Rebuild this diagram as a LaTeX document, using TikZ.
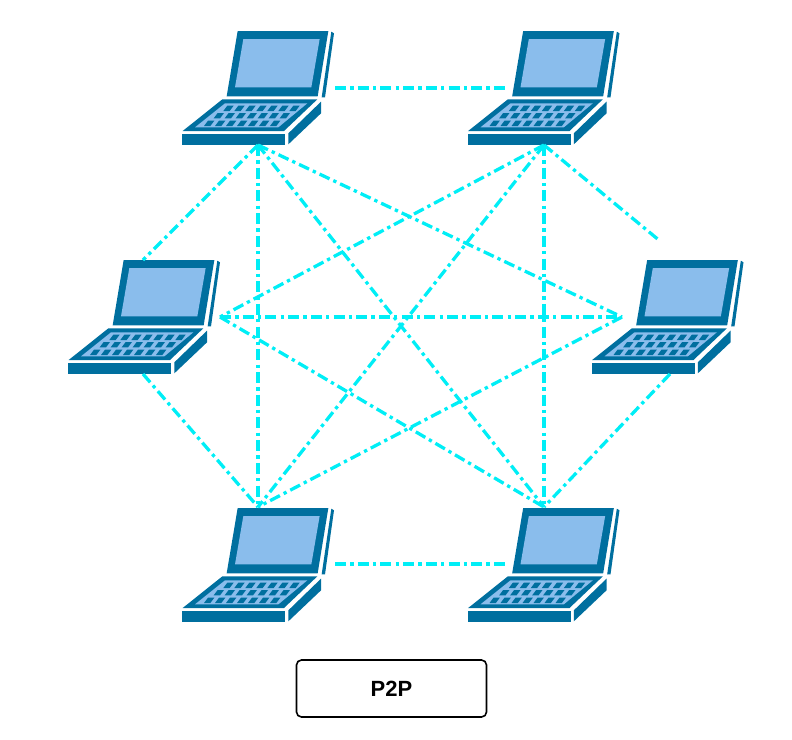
\documentclass[tikz,border=0pt]{standalone}
\usepackage{fontspec}
\setmainfont{Liberation Sans}
\definecolor{lapdark}{HTML}{006F9F}
\definecolor{laplight}{HTML}{8ABDEC}
\definecolor{linkcyan}{HTML}{00EEF6}
\tikzset{
  link/.style={draw=linkcyan,line width=3.3pt,dash pattern=on 11pt off 4.2pt on 3.3pt off 4.2pt},
  titlebox/.style={draw=black,line width=1.6pt,rounded corners=5pt,minimum width=190pt,minimum height=57pt,inner sep=0pt,font=\bfseries\fontsize{22}{26}\selectfont},
  laptop/.pic={
    \begin{scope}[x=0.33333pt,y=-0.33333pt]
      \fill[lapdark] (203,33)--(475,33)--(443,229)--(170,229)--cycle;
      \fill[laplight] (220,57)--(449,57)--(424,202)--(195,202)--cycle;
      \fill[lapdark] (484,35)--(492,40)--(465,232)--(455,232)--cycle;
      \fill[lapdark] (157,238)--(442,238)--(342,333)--(38,333)--cycle;
      \fill[laplight] (165,250)--(412,250)--(325,322)--(75,322)--cycle;
      \foreach \r/\xs/\ys in {0/160/257,1/131/279,2/102/302}{
        \foreach \k in {0,...,6}{
          \fill[lapdark] ({\xs+\k*33+12},\ys)--({\xs+\k*33+31},\ys)--({\xs+\k*33+19},\ys+16)--({\xs+\k*33},\ys+16)--cycle;
        }
      }
      \fill[lapdark] (36,343)--(345,343)--(345,375)--(36,375)--cycle;
      \fill[lapdark] (355,340)--(453,245)--(453,280)--(355,373)--cycle;
    \end{scope}
  }
}
\begin{document}
\begin{tikzpicture}[x=1pt,y=-1pt]
  \useasboundingbox (0,0) rectangle (792,739);
  \pic at (170,20) {laptop};
  \pic at (455.5,20) {laptop};
  \pic at (56,249) {laptop};
  \pic at (579.5,249) {laptop};
  \pic at (170,497) {laptop};
  \pic at (455.5,497) {laptop};

  \coordinate (tlr) at (335,88);
  \coordinate (trl) at (507,88);
  \coordinate (tlb) at (258,145);
  \coordinate (trb) at (544,145);
  \coordinate (lt) at (143,260);
  \coordinate (rt) at (660,241);
  \coordinate (lb) at (143,374);
  \coordinate (rb) at (670,374);
  \coordinate (lr) at (220,317);
  \coordinate (rl) at (622,317);
  \coordinate (blt) at (258,507);
  \coordinate (brt) at (544,507);
  \coordinate (blr) at (335,564);
  \coordinate (brl) at (507,564);

  \draw[link] (tlr)--(trl);
  \draw[link] (blr)--(brl);
  \draw[link] (tlb)--(lt);
  \draw[link] (trb)--(rt);
  \draw[link] (lb)--(blt);
  \draw[link] (rb)--(brt);
  \draw[link] (tlb)--(blt);
  \draw[link] (trb)--(brt);
  \draw[link] (tlb)--(brt);
  \draw[link] (trb)--(blt);
  \draw[link] (tlb)--(rl);
  \draw[link] (trb)--(lr);
  \draw[link] (lr)--(rl);
  \draw[link] (lr)--(brt);
  \draw[link] (rl)--(blt);

  \node[titlebox] (title) at (391.5,688.5) {P2P};
\end{tikzpicture}
\end{document}
